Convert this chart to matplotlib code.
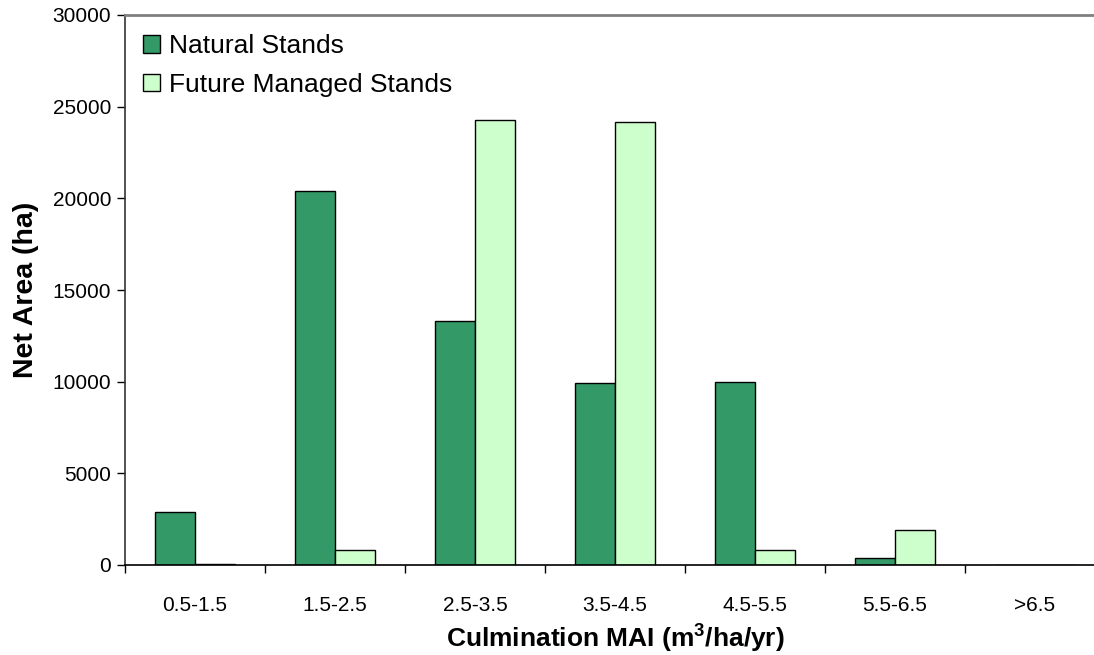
import matplotlib
matplotlib.use("Agg")
import matplotlib.pyplot as plt
import numpy as np

plt.rcParams['font.family'] = ['Liberation Sans', 'DejaVu Sans']
plt.rcParams['mathtext.fontset'] = 'custom'
plt.rcParams['mathtext.rm'] = 'Liberation Sans'
plt.rcParams['mathtext.bf'] = 'Liberation Sans:bold'

# categorias y valores (ha)
categories = ['0.5-1.5', '1.5-2.5', '2.5-3.5', '3.5-4.5', '4.5-5.5', '5.5-6.5', '>6.5']
natural = [2900, 20400, 13300, 9950, 10000, 400, 0]
managed = [80, 800, 24300, 24150, 800, 1900, 0]

fig = plt.figure(figsize=(10.94, 6.55), dpi=100)
ax = fig.add_axes([125/1094, 1 - 565/655, 980/1094, 550/655])

x = np.arange(len(categories))
w = 0.286
ax.bar(x - w/2, natural, w, color='#339966', edgecolor='black', linewidth=1, label='Natural Stands')
ax.bar(x + w/2, managed, w, color='#CCFFCC', edgecolor='black', linewidth=1, label='Future Managed Stands')

ax.set_xlim(-0.5, len(categories) - 0.5)
ax.set_ylim(0, 30000)
ax.set_yticks(np.arange(0, 30001, 5000))
ax.set_xticks(x)
ax.set_xticklabels(categories, fontsize=15)
ax.set_xticks(np.arange(-0.5, len(categories)), minor=True)
ax.tick_params(axis='x', which='major', length=0, pad=22)
ax.tick_params(axis='x', which='minor', length=6, width=1, direction='out')
ax.tick_params(axis='y', labelsize=15, length=6, width=1, direction='out', pad=4)

ax.spines['right'].set_visible(False)
ax.spines['top'].set_color('#808080')
ax.spines['top'].set_linewidth(2)
ax.spines['left'].set_color('#333333')
ax.spines['left'].set_linewidth(1.2)
ax.spines['bottom'].set_linewidth(1.2)

ax.set_xlabel(r'Culmination MAI (m$^{\mathbf{3}}$/ha/yr)', fontsize=19, fontweight='bold', labelpad=5)
ax.set_ylabel('Net Area (ha)', fontsize=20.5, fontweight='bold', labelpad=10)

leg = ax.legend(loc='upper left', bbox_to_anchor=(-0.006, 1.008), frameon=False, fontsize=19,
                handlelength=0.65, handleheight=0.65, handletextpad=0.35, labelspacing=0.55)

plt.savefig('out.png', dpi=100)
